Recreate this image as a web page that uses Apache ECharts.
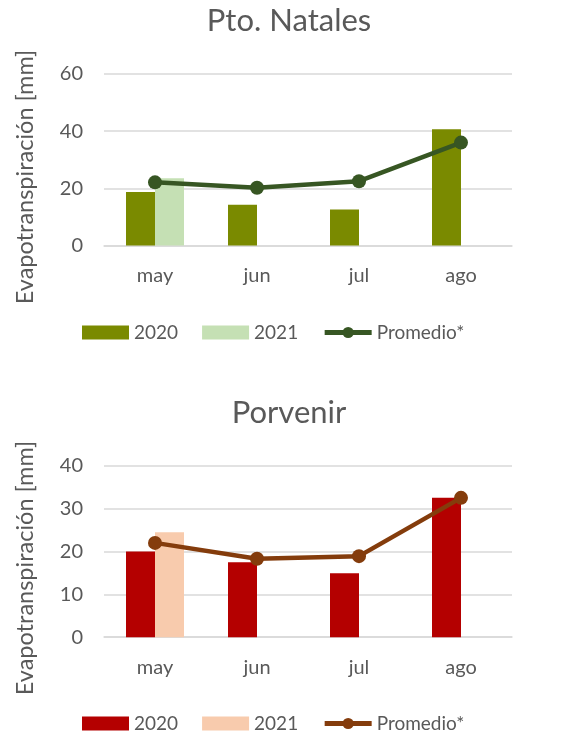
<!DOCTYPE html>
<html><head><meta charset="utf-8">
<script src="https://cdn.jsdelivr.net/npm/echarts@6/dist/echarts.min.js"></script>
<style>html,body{margin:0;padding:0;background:#fff}#c1,#c2{position:absolute;left:0;width:578px;height:374px}#c1{top:0}#c2{top:374px}</style>
</head><body><div id="c1"></div><div id="c2"></div>
<script>
const categories = ['may', 'jun', 'jul', 'ago'];
const natales2020 = [18.7, 14.3, 12.6, 40.7];
const natales2021 = [23.5, null, null, null];
const natalesProm = [22.1, 20.2, 22.5, 36.0];
const porvenir2020 = [20.0, 17.5, 14.9, 32.5];
const porvenir2021 = [24.5, null, null, null];
const porvenirProm = [22.0, 18.3, 18.9, 32.5];
const yTicksNatales = { max: 60, interval: 20 };
const yTicksPorvenir = { max: 40, interval: 10 };

const FONT = 'Lato';
const GREY = '#595959';

function makeOption(title, d2020, d2021, dProm, ticks, colors, gridTop, titleTop, nameY, legendTop) {
  return {
    animation: false,
    textStyle: { fontFamily: FONT },
    title: { text: title, left: 'center', top: titleTop, textStyle: { fontFamily: FONT, fontSize: 31, fontWeight: 'normal', color: GREY } },
    graphic: [{ type: 'text', x: 25, y: nameY, rotation: Math.PI / 2,
      style: { text: 'Evapotranspiración [mm]', fontFamily: FONT, fontSize: 23.5, fill: GREY, textAlign: 'center', textVerticalAlign: 'middle' } }],
    legend: { left: 77, top: legendTop, itemWidth: 47, itemHeight: 14, itemGap: 24,
      textStyle: { fontFamily: FONT, fontSize: 19, color: GREY },
      data: [{ name: '2020', icon: 'rect' }, { name: '2021', icon: 'rect' },
        { name: 'Promedio*', lineStyle: { width: 5 } }] },
    grid: { left: 104, right: 66, top: gridTop, height: 171.5 },
    xAxis: { type: 'category', data: categories,
      axisLine: { show: true, lineStyle: { color: '#d9d9d9', width: 1.5 } }, axisTick: { show: false },
      axisLabel: { color: GREY, fontFamily: FONT, fontSize: 20, margin: 20 } },
    yAxis: { type: 'value', min: 0, max: ticks.max, interval: ticks.interval,
      axisLine: { show: false }, axisTick: { show: false },
      splitLine: { lineStyle: { color: '#d9d9d9', width: 1.5 } },
      axisLabel: { color: GREY, fontFamily: FONT, fontSize: 20, margin: 21 } },
    series: [
      { name: '2020', type: 'bar', data: d2020, barWidth: 29, barGap: '0%', itemStyle: { color: colors[0] } },
      { name: '2021', type: 'bar', data: d2021, barWidth: 29, barGap: '0%', itemStyle: { color: colors[1] } },
      { name: 'Promedio*', type: 'line', data: dProm, symbol: 'circle', symbolSize: 14,
        lineStyle: { color: colors[2], width: 4.5 }, itemStyle: { color: colors[2] } }
    ]
  };
}

const c1 = echarts.init(document.getElementById('c1'));
c1.setOption(makeOption('Pto. Natales', natales2020, natales2021, natalesProm, yTicksNatales,
  ['#7a8a00', '#c5e0b4', '#375623'], 74, 0, 177, 318));
const c2 = echarts.init(document.getElementById('c2'));
c2.setOption(makeOption('Porvenir', porvenir2020, porvenir2021, porvenirProm, yTicksPorvenir,
  ['#b40000', '#f8cbad', '#843c0c'], 91.7, 18, 194, 335));
</script></body></html>
